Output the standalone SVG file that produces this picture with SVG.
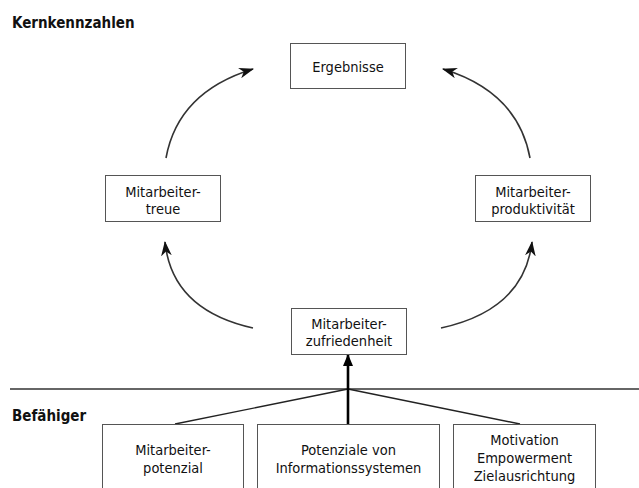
<svg xmlns="http://www.w3.org/2000/svg" width="639" height="488" viewBox="0 0 639 488">
  <style>
    .box { fill: #ffffff; stroke: #555555; stroke-width: 1; }
    .t { font-family: "DejaVu Sans Condensed", "DejaVu Sans", Verdana, sans-serif; font-stretch: condensed; font-size: 14.5px; fill: #111111; text-anchor: middle; }
    .h { font-family: "DejaVu Sans Condensed", "DejaVu Sans", Verdana, sans-serif; font-stretch: condensed; font-size: 15px; font-weight: bold; fill: #111111; }
    .arc { fill: none; stroke: #333333; stroke-width: 1.6; }
    .ln { fill: none; stroke: #222222; stroke-width: 1.4; }
  </style>
  <defs>
    <marker id="ah" viewBox="0 0 14 10" refX="13" refY="5" markerWidth="15" markerHeight="11" markerUnits="userSpaceOnUse" orient="auto">
      <path d="M0,0 L14,5 L0,10 L4,5 z" fill="#111111"/>
    </marker>
    <marker id="ah2" viewBox="0 0 12 10" refX="11" refY="5" markerWidth="12" markerHeight="10" markerUnits="userSpaceOnUse" orient="auto">
      <path d="M0,0 L12,5 L0,10 z" fill="#000000"/>
    </marker>
  </defs>

  <text class="h" x="12" y="28">Kernkennzahlen</text>
  <text class="h" x="12" y="421">Befähiger</text>

  <g id="connectors">
    <line x1="10" y1="389" x2="639" y2="389" stroke="#333333" stroke-width="1.4"/>
    <path class="arc" d="M166,158 Q178,92 253,69" marker-end="url(#ah)"/>
    <path class="arc" d="M530,158 Q518,92 443,69" marker-end="url(#ah)"/>
    <path class="arc" d="M253,328 Q172,310 165,242" marker-end="url(#ah)"/>
    <path class="arc" d="M441,328 Q524,310 532,242" marker-end="url(#ah)"/>
    <line class="ln" x1="348" y1="389" x2="175" y2="424"/>
    <line class="ln" x1="348" y1="389" x2="520" y2="424"/>
    <line x1="348" y1="424" x2="348" y2="355" stroke="#000000" stroke-width="2.6" marker-end="url(#ah2)"/>
  </g>

  <g id="ergebnisse">
    <rect class="box" x="290.5" y="43.5" width="115" height="45"/>
    <text class="t" x="348" y="71.5">Ergebnisse</text>
  </g>
  <g id="treue">
    <rect class="box" x="105.5" y="175.5" width="115" height="46"/>
    <text class="t" x="163" y="196.5">Mitarbeiter-</text>
    <text class="t" x="163" y="213.5">treue</text>
  </g>
  <g id="produktivitaet">
    <rect class="box" x="475.5" y="175.5" width="115" height="46"/>
    <text class="t" x="533" y="196.5">Mitarbeiter-</text>
    <text class="t" x="533" y="213.5">produktivität</text>
  </g>
  <g id="zufriedenheit">
    <rect class="box" x="291.5" y="308.5" width="115" height="46"/>
    <text class="t" x="349" y="328.5">Mitarbeiter-</text>
    <text class="t" x="349" y="345.5">zufriedenheit</text>
  </g>
  <g id="potenzial">
    <rect class="box" x="102.5" y="424.5" width="141" height="80"/>
    <text class="t" x="173" y="455">Mitarbeiter-</text>
    <text class="t" x="173" y="473">potenzial</text>
  </g>
  <g id="informationssysteme">
    <rect class="box" x="257.5" y="424.5" width="182" height="80"/>
    <text class="t" x="348.5" y="455">Potenziale von</text>
    <text class="t" x="348.5" y="473">Informationssystemen</text>
  </g>
  <g id="motivation">
    <rect class="box" x="453.5" y="424.5" width="142" height="80"/>
    <text class="t" x="524.5" y="445">Motivation</text>
    <text class="t" x="524.5" y="463">Empowerment</text>
    <text class="t" x="524.5" y="481">Zielausrichtung</text>
  </g>
</svg>
